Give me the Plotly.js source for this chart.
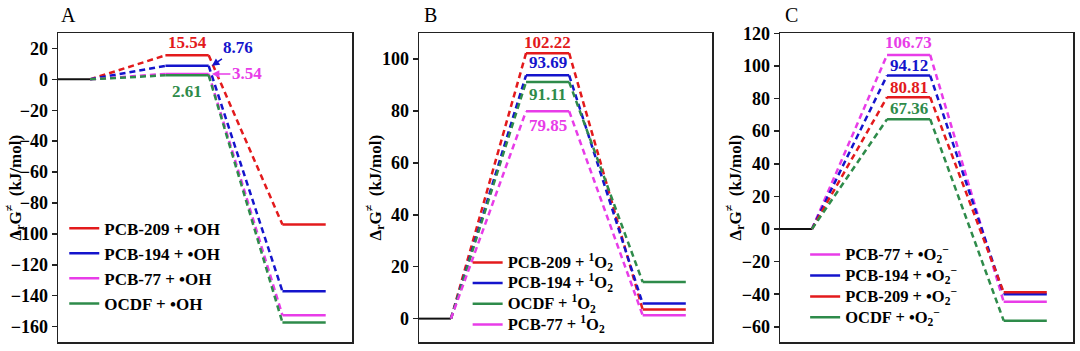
<!DOCTYPE html>
<html><head><meta charset="utf-8">
<script src="https://cdn.plot.ly/plotly-3.0.1.min.js"></script>
<style>html,body{margin:0;padding:0;background:#fff}#chart{width:1080px;height:351px}</style>
</head><body><div id="chart"></div>
<script>
// ---------------- data ----------------
const reactantLevel = 0;

const namesA = ['PCB-209 + •OH', 'PCB-194 + •OH', 'PCB-77 + •OH', 'OCDF + •OH'];
const tsA    = [15.54, 8.76, 3.54, 2.61];
const prodA  = [-94.0, -137.2, -152.7, -157.4];

const namesB = ['PCB-209 + <sup>1</sup>O<sub>2</sub>', 'PCB-194 + <sup>1</sup>O<sub>2</sub>',
                'OCDF + <sup>1</sup>O<sub>2</sub>', 'PCB-77 + <sup>1</sup>O<sub>2</sub>'];
const tsB    = [102.22, 93.69, 91.11, 79.85];
const prodB  = [3.5, 5.8, 14.1, 1.3];

const namesC = ['PCB-77 + •O<sub>2</sub><sup>−</sup>', 'PCB-194 + •O<sub>2</sub><sup>−</sup>',
                'PCB-209 + •O<sub>2</sub><sup>−</sup>', 'OCDF + •O<sub>2</sub><sup>−</sup>'];
const tsC    = [106.73, 94.12, 80.81, 67.36];
const prodC  = [-44.6, -40.0, -38.8, -56.2];

const panelLetters = ['A', 'B', 'C'];
const yTitle = 'Δ<sub>r</sub>G<sup>≠</sup>  (kJ/mol)';

// ---------------- styling / layout constants ----------------
const RED = '#e31a1c', BLUE = '#1414cc', MAG = '#e83ce8', GRN = '#2e8b4a';
const colorsA = [RED, BLUE, MAG, GRN];
const colorsB = [RED, BLUE, GRN, MAG];
const colorsC = [MAG, BLUE, RED, GRN];
const FONT = 'Liberation Serif, Times New Roman, serif';

// stage extents along the reaction coordinate
const R0 = 0, R1 = 1, T0 = 3.35, T1 = 4.7, P0 = 7, P1 = 8.35, XMAX = 9.17;
const TSC = (T0 + T1) / 2;

const traces = [];
const annotations = [];

function panel(k, names, ts, prod, colors, labelPos, legendId, legendSize) {
  const xa = k === 1 ? 'x' : 'x' + k, ya = k === 1 ? 'y' : 'y' + k;
  // reactant level
  traces.push({x: [R0, R1], y: [reactantLevel, reactantLevel], xaxis: xa, yaxis: ya,
    mode: 'lines', line: {color: '#111', width: 2}, showlegend: false, hoverinfo: 'skip'});
  for (let i = 0; i < names.length; i++) {
    const g = 'p' + k + '_' + i;
    const label = legendSize ? '<span style="font-size:' + legendSize + 'px">' + names[i] + '</span>' : names[i];
    traces.push({x: [R1, T0, null, T1, P0], y: [reactantLevel, ts[i], null, ts[i], prod[i]],
      xaxis: xa, yaxis: ya, mode: 'lines', line: {color: colors[i], width: 2.5, dash: '6px,4px'},
      showlegend: false, legendgroup: g, legend: legendId, hoverinfo: 'skip'});
    traces.push({x: [T0, T1, null, P0, P1], y: [ts[i], ts[i], null, prod[i], prod[i]],
      xaxis: xa, yaxis: ya, mode: 'lines', line: {color: colors[i], width: 2.5},
      name: label, legendgroup: g, legend: legendId, legendrank: i + 1, showlegend: true});
    const lp = labelPos[i];
    const ann = {xref: xa, yref: ya, text: ts[i].toFixed(2),
      font: {family: FONT, size: 17, weight: 'bold', color: colors[i]}};
    if (lp.arrow) {
      Object.assign(ann, {x: T1 + 0.1, y: ts[i], showarrow: true, arrowhead: 2, arrowsize: 1,
        arrowwidth: 1.5, arrowcolor: colors[i], ax: lp.ax, ay: lp.ay, standoff: 0});
    } else {
      Object.assign(ann, {x: TSC, y: ts[i], showarrow: false, yanchor: 'middle', yshift: lp.shift});
    }
    annotations.push(ann);
  }
}

panel(1, namesA, tsA, prodA, colorsA,
  [{shift: 13}, {arrow: true, ax: 26, ay: -18}, {arrow: true, ax: 35, ay: 0}, {shift: -16}], 'legend', 0);
panel(2, namesB, tsB, prodB, colorsB,
  [{shift: 11}, {shift: 12.5}, {shift: -12.5}, {shift: -14.5}], 'legend2', 16.5);
panel(3, namesC, tsC, prodC, colorsC,
  [{shift: 12}, {shift: 10}, {shift: 10}, {shift: 11}], 'legend3', 16.5);

const xDomains = [[58/1080, 352/1080], [419/1080, 712/1080], [780/1080, 1073/1080]];
const yDom = [9/351, 318/351];
const yRanges = [[-170, 30], [-9, 110], [-69.3, 120.2]];
const titleX = [15, 375, 735];
const letterX = [68, 430, 791];

const layout = {
  width: 1080, height: 351, margin: {l: 0, r: 0, t: 0, b: 0},
  paper_bgcolor: '#fff', plot_bgcolor: '#fff',
  font: {family: FONT, color: '#000'},
  showlegend: true, annotations: annotations,
  legend:  {x: 0.0595, y: 0.40, xanchor: 'left', yanchor: 'top', bgcolor: 'rgba(0,0,0,0)',
            font: {family: FONT, size: 17, weight: 'bold'}, tracegroupgap: 1, traceorder: 'normal'},
  legend2: {x: 0.433, y: 0.296, xanchor: 'left', yanchor: 'top', bgcolor: 'rgba(0,0,0,0)',
            font: {family: FONT, size: 13.6, weight: 'bold'}, tracegroupgap: 0, traceorder: 'normal'},
  legend3: {x: 0.7455, y: 0.319, xanchor: 'left', yanchor: 'top', bgcolor: 'rgba(0,0,0,0)',
            font: {family: FONT, size: 13.8, weight: 'bold'}, tracegroupgap: 0, traceorder: 'normal'}
};

for (let k = 1; k <= 3; k++) {
  const sx = k === 1 ? '' : k;
  layout['xaxis' + sx] = {domain: xDomains[k-1], range: [R0, XMAX], anchor: 'y' + sx,
    showticklabels: false, ticks: '', showgrid: false, zeroline: false,
    showline: true, mirror: true, linecolor: '#222', linewidth: 1.5, fixedrange: true};
  layout['yaxis' + sx] = {domain: yDom, range: yRanges[k-1], anchor: 'x' + sx, dtick: 20,
    ticks: 'outside', ticklen: 5, tickwidth: 1.5, tickcolor: '#222',
    tickfont: {family: FONT, size: 18, weight: 'bold', color: '#000'},
    showgrid: false, zeroline: false, showline: true, mirror: true,
    linecolor: '#222', linewidth: 1.5, fixedrange: true};
  annotations.push({xref: 'paper', yref: 'paper', x: titleX[k-1] / 1080, y: (yDom[0] + yDom[1]) / 2,
    xanchor: 'center', yanchor: 'middle', textangle: -90, showarrow: false, text: yTitle,
    font: {family: FONT, size: 17, weight: 'bold', color: '#000'}});
  annotations.push({xref: 'paper', yref: 'paper', x: letterX[k-1] / 1080, y: 1 - 15 / 351,
    xanchor: 'center', yanchor: 'middle', showarrow: false, text: panelLetters[k-1],
    font: {family: FONT, size: 20, color: '#000'}});
}

Plotly.newPlot('chart', traces, layout, {staticPlot: true, displayModeBar: false});
</script>
</body></html>
